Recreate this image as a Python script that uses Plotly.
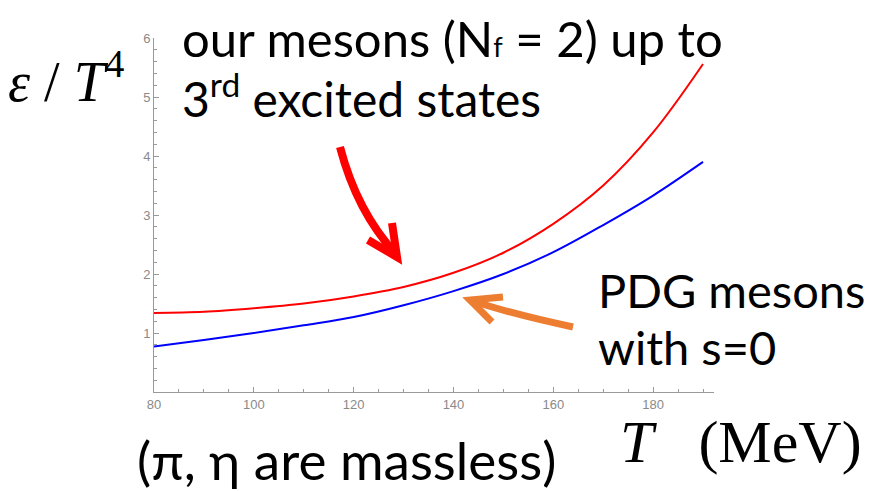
import plotly.graph_objects as go

# ---- data ----
T_vals = [80, 90, 100, 110, 120, 130, 140, 150, 160, 170, 180, 190]
eps_ours = [1.34, 1.36, 1.42, 1.50, 1.62, 1.78, 2.02, 2.36, 2.85, 3.50, 4.40, 5.56]
eps_pdg = [0.77, 0.88, 1.00, 1.13, 1.27, 1.47, 1.71, 2.00, 2.37, 2.83, 3.33, 3.90]
x_ticks = [80, 100, 120, 140, 160, 180]
y_ticks = [1, 2, 3, 4, 5, 6]

W, H = 873, 491
L, R, Tm, B = 154, 159, 38, 99
PW, PH = W - L - R, H - Tm - B


def px(x, y):
    return (x - L) / PW, (H - B - y) / PH


def path_px(pts_cmd):
    out = []
    for item in pts_cmd:
        if isinstance(item, str):
            out.append(item)
        else:
            a, b = px(*item)
            out.append(f"{a:.5f},{b:.5f}")
    return " ".join(out)


fig = go.Figure()
fig.add_trace(go.Scatter(x=T_vals, y=eps_ours, mode="lines",
                         line=dict(color="#ff0000", width=2, shape="spline", smoothing=1.0),
                         showlegend=False, hoverinfo="skip"))
fig.add_trace(go.Scatter(x=T_vals, y=eps_pdg, mode="lines",
                         line=dict(color="#0000ff", width=2, shape="spline", smoothing=1.0),
                         showlegend=False, hoverinfo="skip"))

axcol = "#9a9a9a"
tickfont = dict(family="Liberation Sans, Arial, sans-serif", size=13, color="#8a8a8a")
fig.update_xaxes(range=[80, 192.2], showline=True, linecolor=axcol, linewidth=1,
                 showgrid=False, zeroline=False, tickvals=x_ticks,
                 ticks="inside", ticklen=5, tickcolor=axcol, tickfont=tickfont,
                 minor=dict(ticks="inside", ticklen=3, dtick=5, tick0=80, tickcolor=axcol, showgrid=False))
fig.update_yaxes(range=[0, 6.0], showline=True, linecolor=axcol, linewidth=1,
                 showgrid=False, zeroline=False, tickvals=y_ticks,
                 ticks="inside", ticklen=5, tickcolor=axcol, tickfont=tickfont,
                 minor=dict(ticks="inside", ticklen=3, dtick=0.2, tick0=0, tickcolor=axcol, showgrid=False))

sans = "Lato, Open Sans, sans-serif"
serif = "Liberation Serif, DejaVu Serif, serif"


def text(x, y, s, size, family=sans, xanchor="left"):
    a, b = px(x, y)
    fig.add_annotation(x=a, y=b, xref="paper", yref="paper", text=s, showarrow=False,
                       xanchor=xanchor, yanchor="middle",
                       font=dict(family=family, size=size, color="#000000"))


text(180, 38, "our mesons (N<span style='font-size:27px'>f</span> = 2) up to", 49)
text(180, 95, "3<sup>rd</sup> excited states", 48)
text(596, 290, "PDG mesons", 47)
text(596, 347, "with s=0", 47)
text(135, 459, "(π, η are massless)", 53)
text(6, 78, "<i>ε</i> / <i>T</i><sup>4</sup>", 56, serif)
text(618, 442, "<i>T</i>   (MeV)", 60, serif)

# curved arrows
red = "#ff0000"
orange = "#ed7d31"
fig.add_shape(type="path", xref="paper", yref="paper",
              path=path_px(["M", (340, 147), "Q", (357, 212), (396, 254)]),
              line=dict(color=red, width=8))
fig.add_shape(type="path", xref="paper", yref="paper",
              path=path_px(["M", (368, 240), "L", (397, 257), "L", (392, 223)]),
              line=dict(color=red, width=8))
fig.add_shape(type="path", xref="paper", yref="paper",
              path=path_px(["M", (573, 327), "Q", (512, 314), (473, 301)]),
              line=dict(color=orange, width=7))
fig.add_shape(type="path", xref="paper", yref="paper",
              path=path_px(["M", (503, 297), "L", (470, 300), "L", (492, 322)]),
              line=dict(color=orange, width=7))

fig.update_layout(width=W, height=H, margin=dict(l=L, r=R, t=Tm, b=B),
                  paper_bgcolor="white", plot_bgcolor="white")
fig.write_html("out.html")
